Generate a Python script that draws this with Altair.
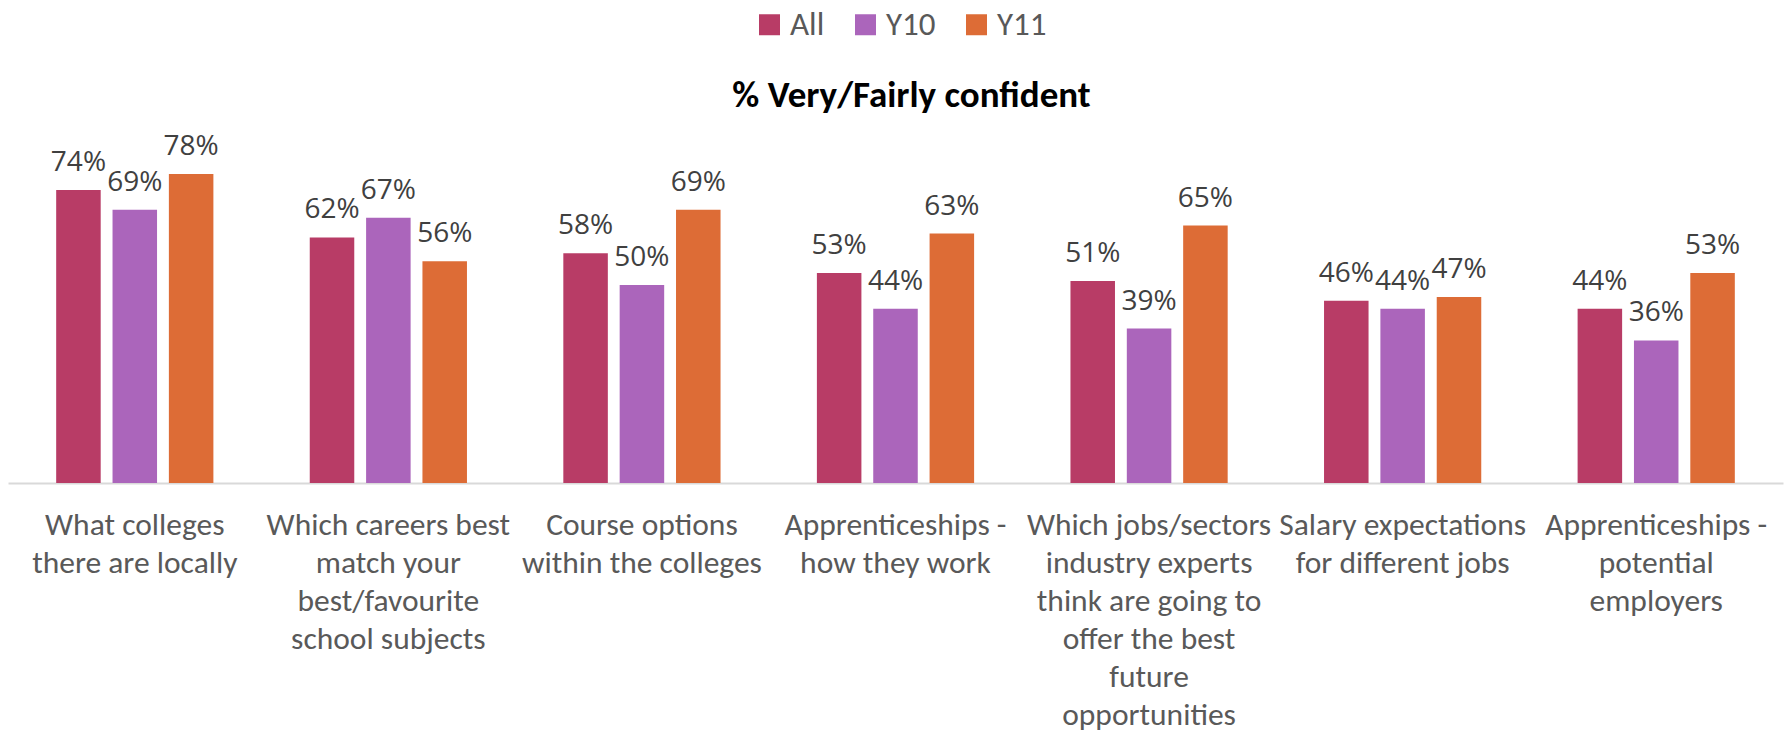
import altair as alt
import pandas as pd

categories = [
    "What colleges|there are locally",
    "Which careers best|match your|best/favourite|school subjects",
    "Course options|within the colleges",
    "Apprenticeships -|how they work",
    "Which jobs/sectors|industry experts|think are going to|offer the best|future|opportunities",
    "Salary expectations|for different jobs",
    "Apprenticeships -|potential|employers",
]
series = ["All", "Y10", "Y11"]
all_vals = [74, 62, 58, 53, 51, 46, 44]
y10_vals = [69, 67, 50, 44, 39, 44, 36]
y11_vals = [78, 56, 69, 63, 65, 47, 53]
colors = ["#B83C66", "#AB65BB", "#DD6C36"]

rows = []
for i, c in enumerate(categories):
    for s, vals in zip(series, [all_vals, y10_vals, y11_vals]):
        rows.append({"category": c, "series": s, "value": vals[i], "label": f"{vals[i]}%"})
df = pd.DataFrame(rows)

CAT_FONT = "Carlito, Liberation Sans Narrow, sans-serif"

x = alt.X(
    "category:N",
    sort=categories,
    title=None,
    scale=alt.Scale(paddingInner=0.38, paddingOuter=0.19),
    axis=alt.Axis(
        labelExpr="split(datum.label, '|')",
        labelAngle=0,
        labelFont=CAT_FONT,
        labelFontSize=31.5,
        labelColor="#595959",
        labelLineHeight=38,
        labelPadding=26,
        labelBaseline="top",
        labelLimit=0,
        ticks=False,
        domainColor="#D9D9D9",
        domainWidth=2,
        labelOverlap=False,
    ),
)
xo = alt.XOffset("series:N", sort=series, scale=alt.Scale(paddingInner=0.21, paddingOuter=0))
y = alt.Y("value:Q", scale=alt.Scale(domain=[0, 100]), axis=None)
color = alt.Color(
    "series:N",
    sort=series,
    scale=alt.Scale(domain=series, range=colors),
    legend=alt.Legend(
        title=None,
        orient="none",
        legendX=745,
        legendY=-79,
        direction="horizontal",
        symbolType="square",
        symbolSize=441,
        symbolStrokeWidth=0,
        symbolOpacity=1,
        labelFont=CAT_FONT,
        labelFontSize=33,
        labelColor="#595959",
        labelOffset=4,
        columnPadding=24,
    ),
)

base = alt.Chart(df).encode(x=x, xOffset=xo, y=y)
bars = base.mark_bar().encode(color=color)
labels = base.mark_text(
    font="Open Sans", fontSize=28, color="#404040", baseline="alphabetic", dy=-19
).encode(text="label:N")

chart = (
    alt.layer(bars, labels)
    .properties(
        width=1775,
        height=396,
        title=alt.TitleParams(
            "% Very/Fairly confident",
            font=CAT_FONT,
            fontSize=37,
            fontWeight="bold",
            color="#000000",
            anchor="middle",
            dx=16,
            dy=91,
            offset=-16,
        ),
        autosize=alt.AutoSizeParams(type="none"),
        padding={"left": 8, "top": 87, "right": 2, "bottom": 252},
    )
    .configure_view(stroke=None)
)

chart.save("out.html", embed_options={"renderer": "svg", "actions": False})
